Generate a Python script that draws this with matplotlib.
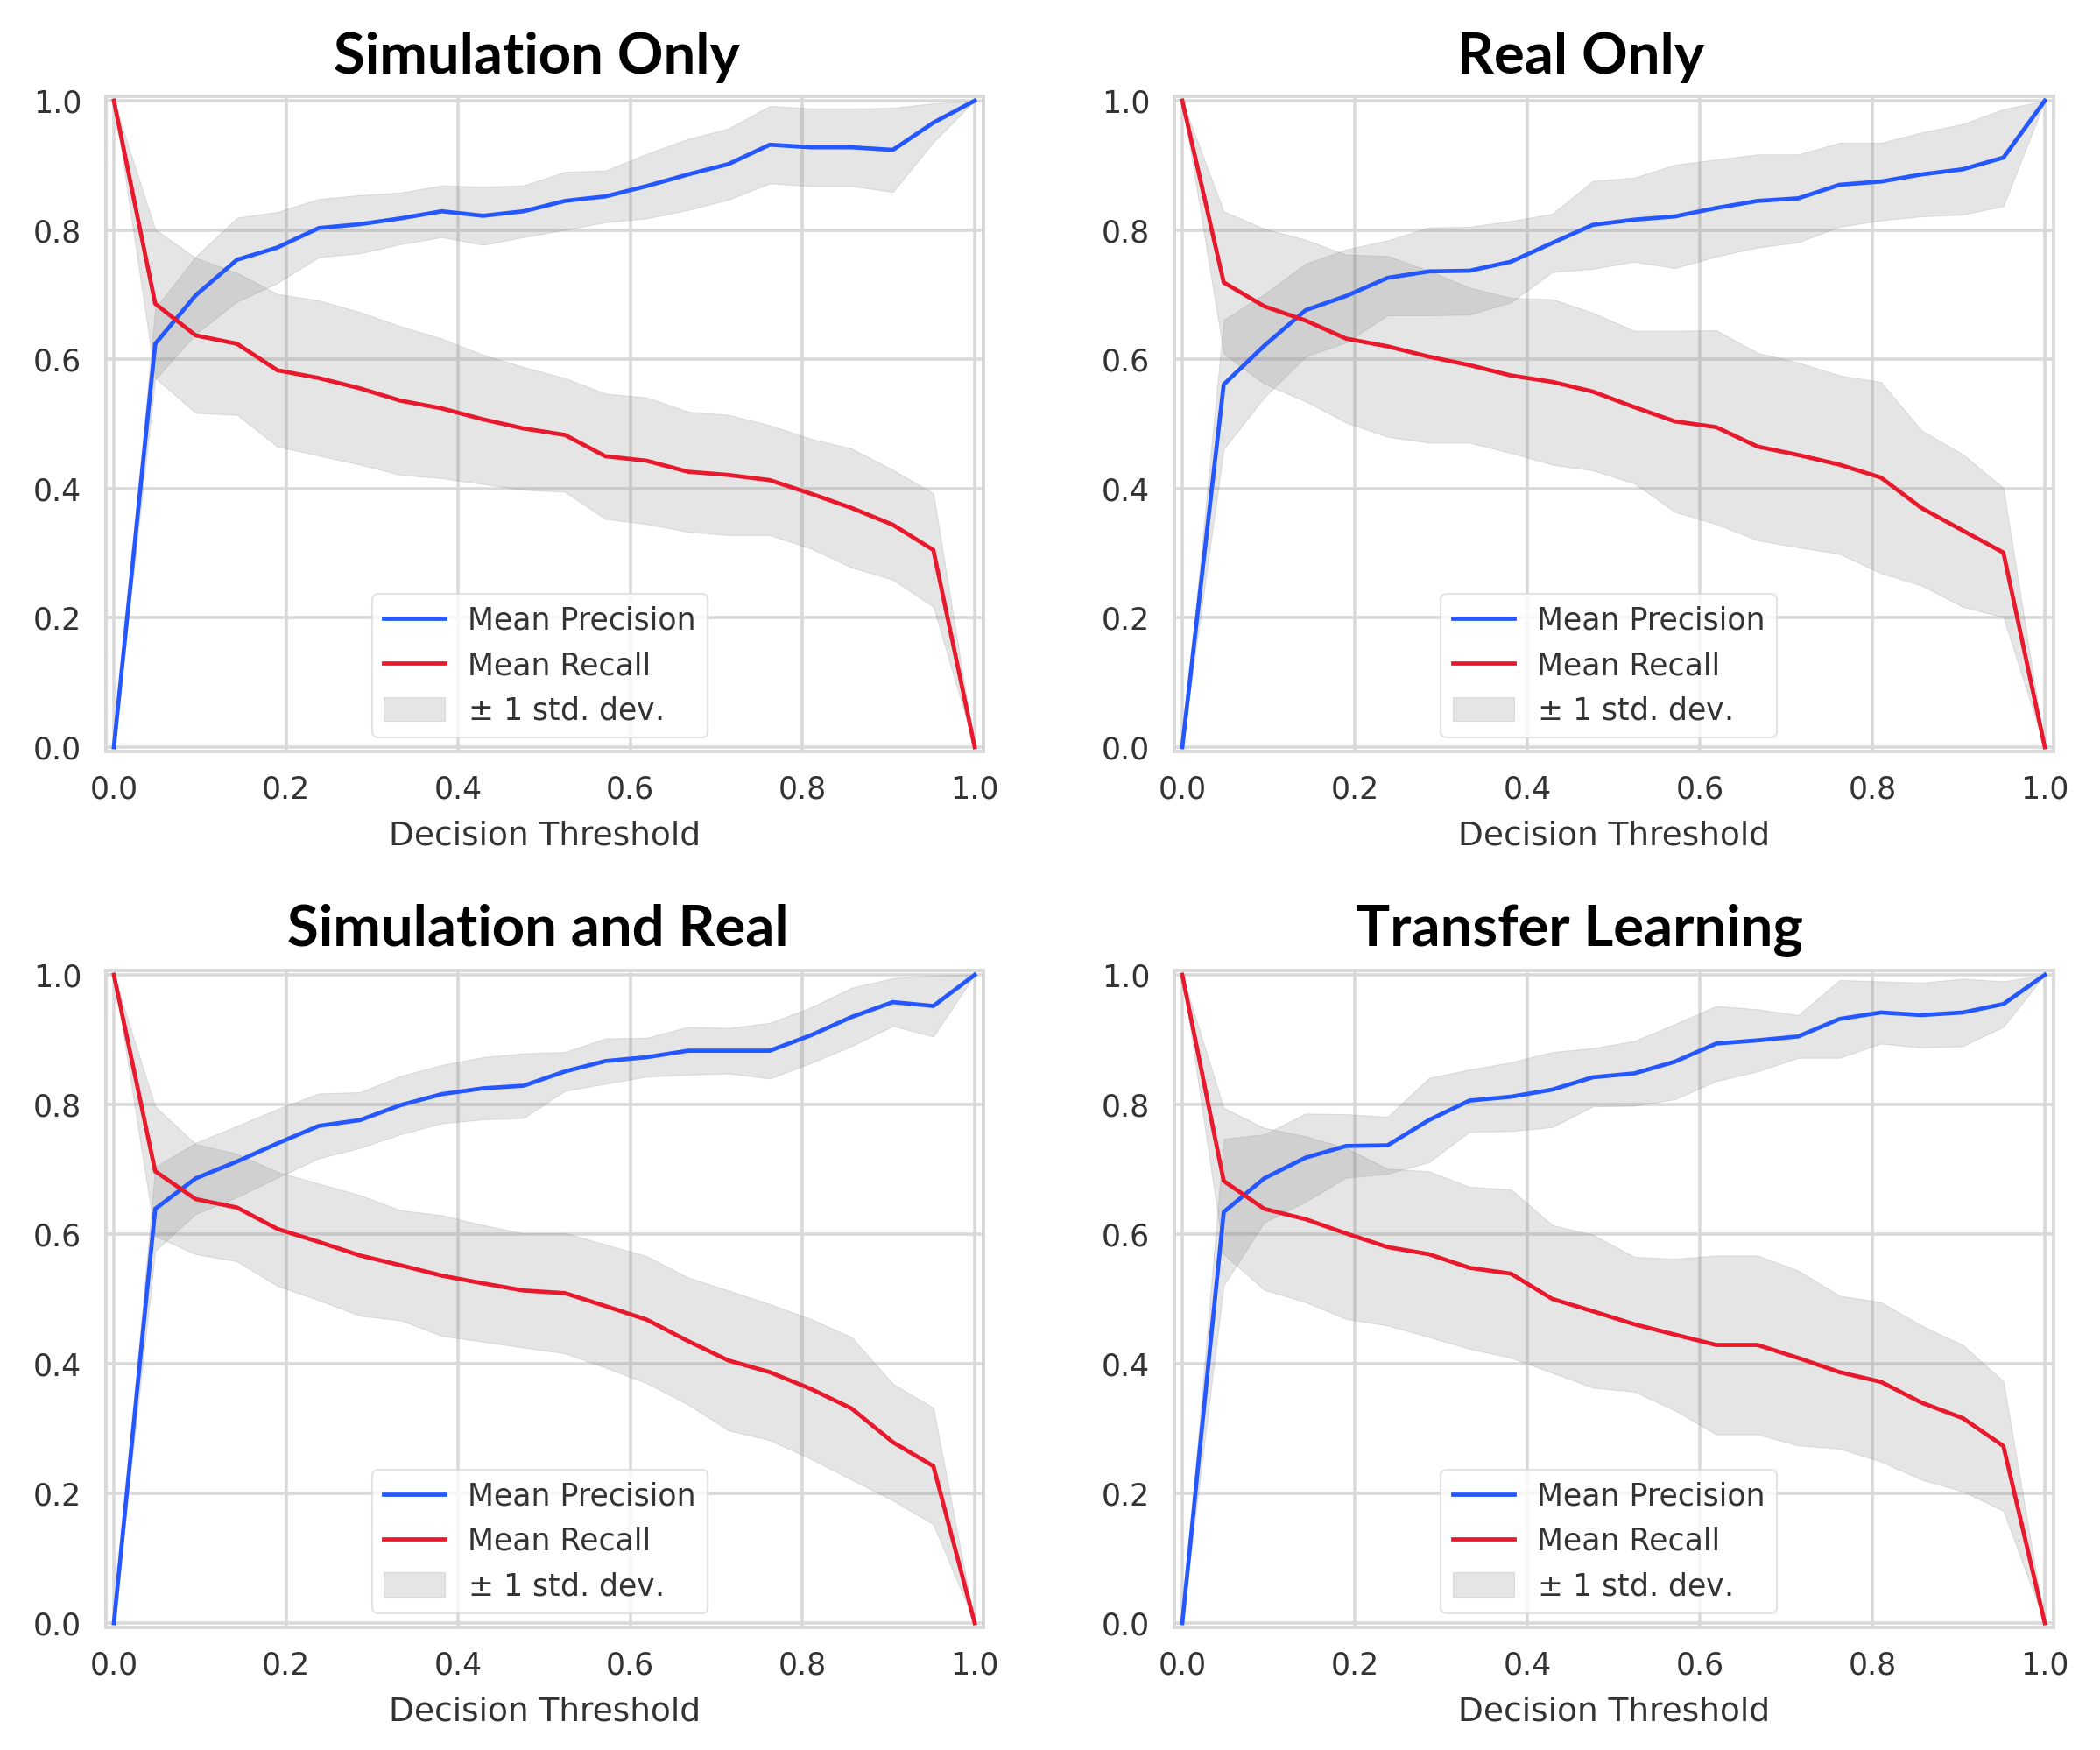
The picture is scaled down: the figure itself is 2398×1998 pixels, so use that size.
import matplotlib
matplotlib.use("Agg")
import matplotlib.pyplot as plt
import numpy as np

# ---------------- data ----------------
thresholds = [0.0, 0.048, 0.095, 0.143, 0.190, 0.238, 0.286, 0.333, 0.381, 0.429, 0.476,
              0.524, 0.571, 0.619, 0.667, 0.714, 0.762, 0.810, 0.857, 0.905, 0.952, 1.0]

titles = ["Simulation Only", "Real Only", "Simulation and Real", "Transfer Learning"]

sim_prec = [0.0, 0.624, 0.699, 0.754, 0.773, 0.803, 0.809, 0.818, 0.829, 0.822, 0.829,
            0.845, 0.852, 0.868, 0.886, 0.902, 0.932, 0.928, 0.928, 0.924, 0.966, 1.0]
sim_prec_std = [0.0, 0.055, 0.06, 0.065, 0.055, 0.045, 0.045, 0.04, 0.04, 0.045, 0.04,
                0.045, 0.04, 0.05, 0.055, 0.055, 0.06, 0.06, 0.06, 0.065, 0.03, 0.0]
sim_rec = [1.0, 0.686, 0.637, 0.624, 0.583, 0.571, 0.555, 0.536, 0.524, 0.507, 0.493,
           0.483, 0.450, 0.443, 0.426, 0.421, 0.413, 0.392, 0.370, 0.344, 0.305, 0.0]
sim_rec_std = [0.0, 0.115, 0.12, 0.11, 0.118, 0.12, 0.118, 0.115, 0.108, 0.10, 0.095,
               0.088, 0.097, 0.098, 0.093, 0.093, 0.085, 0.085, 0.092, 0.085, 0.088, 0.0]

real_prec = [0.0, 0.561, 0.621, 0.676, 0.698, 0.726, 0.736, 0.737, 0.751, 0.780, 0.808,
             0.816, 0.821, 0.834, 0.845, 0.849, 0.870, 0.875, 0.886, 0.894, 0.912, 1.0]
real_prec_std = [0.0, 0.10, 0.08, 0.072, 0.072, 0.058, 0.068, 0.068, 0.063, 0.045, 0.068,
                 0.065, 0.08, 0.075, 0.072, 0.068, 0.065, 0.06, 0.065, 0.07, 0.075, 0.0]
real_rec = [1.0, 0.719, 0.682, 0.660, 0.632, 0.620, 0.604, 0.591, 0.575, 0.565, 0.550,
            0.526, 0.504, 0.495, 0.465, 0.452, 0.437, 0.417, 0.370, 0.335, 0.301, 0.0]
real_rec_std = [0.0, 0.11, 0.12, 0.125, 0.13, 0.14, 0.133, 0.12, 0.12, 0.128, 0.122,
                0.118, 0.14, 0.15, 0.145, 0.143, 0.138, 0.148, 0.12, 0.118, 0.10, 0.0]

simreal_prec = [0.0, 0.639, 0.686, 0.712, 0.740, 0.767, 0.776, 0.799, 0.816, 0.825, 0.829,
                0.851, 0.867, 0.873, 0.883, 0.883, 0.883, 0.907, 0.935, 0.958, 0.952, 1.0]
simreal_prec_std = [0.0, 0.065, 0.055, 0.055, 0.053, 0.05, 0.043, 0.045, 0.045, 0.048, 0.05,
                    0.03, 0.035, 0.03, 0.037, 0.035, 0.043, 0.043, 0.045, 0.037, 0.047, 0.0]
simreal_rec = [1.0, 0.697, 0.654, 0.641, 0.608, 0.588, 0.567, 0.552, 0.536, 0.524, 0.513,
               0.509, 0.489, 0.468, 0.435, 0.405, 0.387, 0.361, 0.331, 0.279, 0.242, 0.0]
simreal_rec_std = [0.0, 0.10, 0.085, 0.083, 0.088, 0.09, 0.093, 0.085, 0.093, 0.09, 0.088,
                   0.093, 0.095, 0.098, 0.098, 0.108, 0.105, 0.108, 0.11, 0.09, 0.09, 0.0]

transfer_prec = [0.0, 0.634, 0.686, 0.718, 0.736, 0.737, 0.776, 0.806, 0.812, 0.823, 0.842,
                 0.848, 0.866, 0.894, 0.899, 0.905, 0.932, 0.942, 0.938, 0.942, 0.955, 1.0]
transfer_prec_std = [0.0, 0.113, 0.068, 0.068, 0.049, 0.044, 0.065, 0.048, 0.053, 0.058, 0.045,
                     0.05, 0.058, 0.058, 0.048, 0.033, 0.06, 0.048, 0.05, 0.052, 0.035, 0.0]
transfer_rec = [1.0, 0.682, 0.639, 0.623, 0.601, 0.580, 0.569, 0.548, 0.539, 0.500, 0.481,
                0.461, 0.445, 0.429, 0.429, 0.409, 0.387, 0.372, 0.340, 0.316, 0.273, 0.0]
transfer_rec_std = [0.0, 0.113, 0.125, 0.128, 0.132, 0.121, 0.128, 0.125, 0.13, 0.114, 0.118,
                    0.104, 0.117, 0.138, 0.138, 0.135, 0.118, 0.123, 0.119, 0.113, 0.10, 0.0]

tick_values = [0.0, 0.2, 0.4, 0.6, 0.8, 1.0]
tick_labels = ["0.0", "0.2", "0.4", "0.6", "0.8", "1.0"]

panels = [
    (sim_prec, sim_prec_std, sim_rec, sim_rec_std),
    (real_prec, real_prec_std, real_rec, real_rec_std),
    (simreal_prec, simreal_prec_std, simreal_rec, simreal_rec_std),
    (transfer_prec, transfer_prec_std, transfer_rec, transfer_rec_std),
]

# ---------------- style ----------------
W, H = 2398, 1998
BLUE = "#2457ff"
RED = "#e8192c"
GRID = "#d9d9d9"
TEXT = "#333333"

fig = plt.figure(figsize=(W / 100, H / 100), dpi=100)

# axes boxes in pixels: (left, top, width, height)
boxes = [(121, 110, 1002, 748), (1341, 110, 1004, 748),
         (121, 1108, 1002, 750), (1341, 1108, 1004, 750)]
title_pos = [(613, 84), (1805, 84), (614, 1080), (1803, 1080)]

for k, (prec, pstd, rec, rstd) in enumerate(panels):
    l, t, w, h = boxes[k]
    ax = fig.add_axes([l / W, 1 - (t + h) / H, w / W, h / H])
    x = np.array(thresholds)
    p = np.array(prec); ps = np.array(pstd)
    r = np.array(rec); rs = np.array(rstd)

    ax.grid(True, color=GRID, linewidth=2.6, zorder=0)
    ax.set_axisbelow(True)
    ax.plot(x, p, color=BLUE, lw=3.4, label="Mean Precision", zorder=3)
    ax.plot(x, r, color=RED, lw=3.4, label="Mean Recall", zorder=3)
    ax.fill_between(x, np.clip(p - ps, 0, 1), np.clip(p + ps, 0, 1),
                    color="grey", alpha=0.2, lw=0.8, label="$\\pm$ 1 std. dev.", zorder=2)
    ax.fill_between(x, np.clip(r - rs, 0, 1), np.clip(r + rs, 0, 1),
                    color="grey", alpha=0.2, lw=0.8, zorder=2)

    ax.set_xlim(-0.0092, 1.0102)
    ax.set_ylim(-0.0068, 1.0068)
    ax.set_xticks(tick_values)
    ax.set_xticklabels(tick_labels)
    ax.set_yticks(tick_values)
    ax.set_yticklabels(tick_labels)
    ax.tick_params(axis="both", length=0, labelsize=25, labelcolor=TEXT)
    ax.tick_params(axis="x", pad=19)
    ax.tick_params(axis="y", pad=20)
    for s in ax.spines.values():
        s.set_color(GRID)
        s.set_linewidth(2.8)
    ax.set_xlabel("Decision Threshold", fontsize=27, color=TEXT, labelpad=13)

    leg = ax.legend(loc="lower left", bbox_to_anchor=(0.303, 0.021), borderaxespad=0,
                    fontsize=25, handlelength=2.0, handleheight=0.85,
                    handletextpad=0.75, labelspacing=0.5, borderpad=0.4,
                    framealpha=0.8, fancybox=True)
    leg.get_frame().set_edgecolor("#dddddd")
    leg.get_frame().set_linewidth(1.5)
    for txt in leg.get_texts():
        txt.set_color(TEXT)

    tx, ty = title_pos[k]
    fig.text(tx / W, 1 - ty / H, titles[k], ha="center", va="baseline",
             fontsize=47, fontweight="bold", family=["Lato", "DejaVu Sans"], color="black")

fig.savefig("out.png", dpi=100)
